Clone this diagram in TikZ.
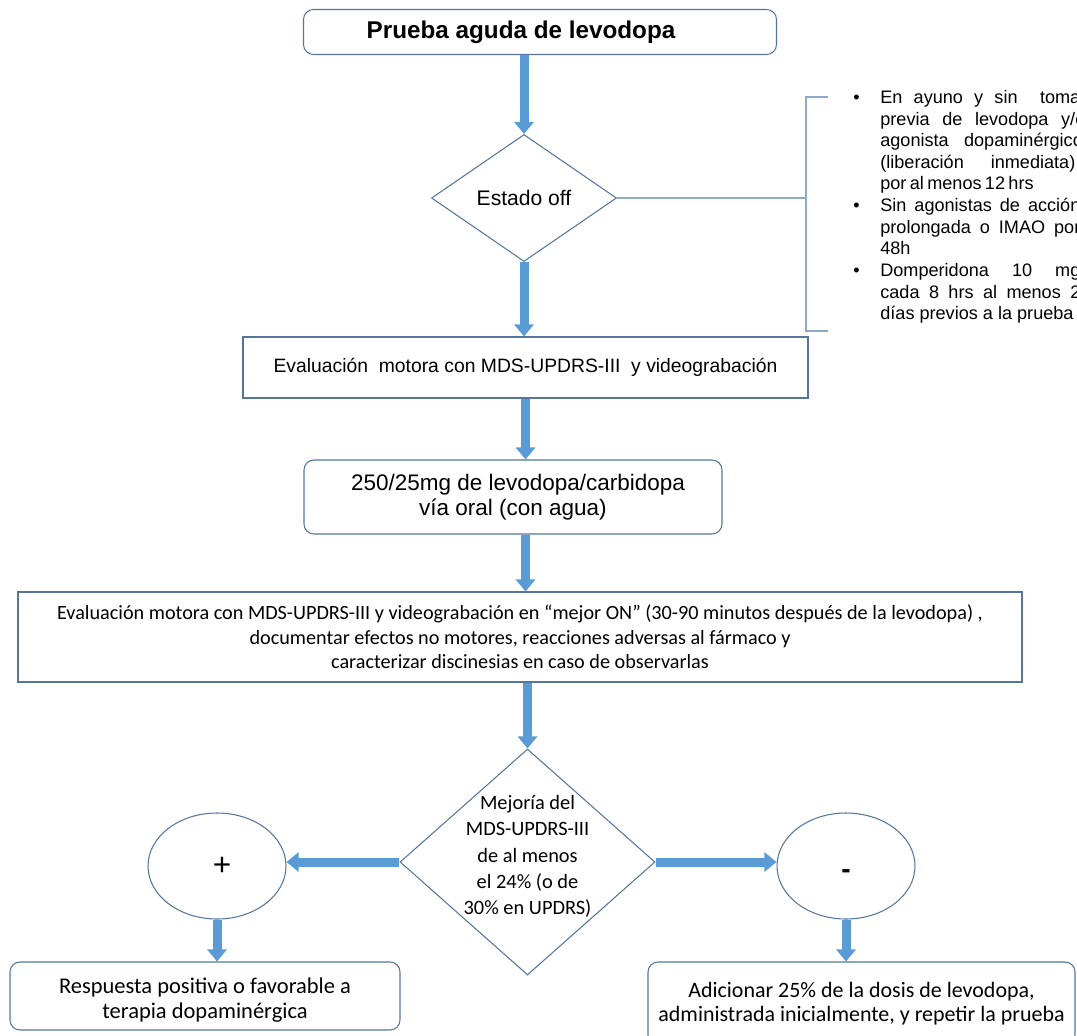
\documentclass[tikz,border=0pt]{standalone}
\usepackage{fontspec}
\setmainfont{Liberation Sans}
\newfontfamily\calibri{Carlito}
\usetikzlibrary{shapes.geometric, arrows.meta}
\definecolor{BoxLine}{RGB}{84,118,156}
\definecolor{BracketLine}{RGB}{141,169,204}
\definecolor{ArrowFill}{RGB}{91,155,213}

\begin{document}
\begin{tikzpicture}[
  font=\fontsize{11}{13.5}\selectfont,
  box/.style={draw=BoxLine, line width=0.6pt, align=center, inner sep=0pt},
  roundbox/.style={box, rounded corners=0.2cm},
  decision/.style={draw=BoxLine, line width=0.6pt, diamond, inner sep=0pt},
  sign/.style={draw=BoxLine, line width=0.6pt, ellipse, inner sep=0pt, minimum width=2.76cm, minimum height=2.12cm},
  flow/.style={draw=ArrowFill, line width=0.18cm, -{Triangle[width=0.38cm,length=0.24cm]}},
]
\useasboundingbox (0,0) rectangle (21.54,-20.7);
\clip (0,0) rectangle (21.54,-20.7);

% Title
\node[roundbox, minimum width=9.46cm, minimum height=0.9cm, font=\bfseries\fontsize{13.8}{16}\selectfont] (title) at (10.80,-0.64) {Prueba aguda de levodopa\hspace*{0.76cm}};

% Off state and its conditions
\node[decision, minimum width=3.7cm, minimum height=2.54cm, font=\fontsize{12}{14}\selectfont] (off) at (10.48,-3.96) {Estado off};
\coordinate (brk) at (16.12,-3.96);
\draw[BracketLine, line width=0.6pt] (16.56,-1.94) -- (16.12,-1.94) -- (16.12,-6.62) -- (16.56,-6.62);
\draw[BracketLine, line width=0.6pt] (off.east) -- (brk);
\node[anchor=north west, inner sep=0pt, font=\fontsize{10.3}{12.3}\selectfont] (cond) at (17.06,-1.76) {%
\begin{tabular}{@{}p{0.54cm}@{}l@{}}
\textbullet & \makebox[4.12cm][s]{En ayuno y sin\ \ tomar}\\
 & \makebox[4.1cm][s]{previa de levodopa y/o}\\
 & \makebox[4.05cm][s]{agonista dopaminérgico}\\
 & \makebox[3.9cm][s]{(liberación inmediata)}\\
 & \makebox[2.3cm][s]{por al menos 12 hrs}\\
\textbullet & \makebox[4.0cm][s]{Sin agonistas de acción}\\
 & \makebox[4.0cm][s]{prolongada o IMAO por}\\
 & 48h\\
\textbullet & \makebox[4.0cm][s]{Domperidona 10 mg}\\
 & \makebox[4.0cm][s]{cada 8 hrs al menos 2}\\
 & días previos a la prueba
\end{tabular}};

% Motor evaluation and dose
\node[box, minimum width=11.3cm, minimum height=1.22cm] (eval1) at (10.51,-7.35) {Evaluación\ \ motora con MDS-UPDRS-III\ \ y videograbación};
\node[roundbox, minimum width=8.36cm, minimum height=1.48cm, font=\fontsize{12.8}{14.2}\selectfont] (dose) at (10.26,-9.94) {\hspace*{0.2cm}250/25mg de levodopa/carbidopa\\vía oral (con agua)};
\node[box, minimum width=20.08cm, minimum height=1.8cm, font=\calibri\fontsize{11.5}{13.9}\selectfont] (eval2) at (10.40,-12.74) {Evaluación motora con MDS-UPDRS-III y videograbación en “mejor ON” (30-90 minutos después de la levodopa) ,\\documentar efectos no motores, reacciones adversas al fármaco y\\caracterizar discinesias en caso de observarlas};

% Decision
\node[decision, minimum width=5.1cm, minimum height=4.52cm, font=\calibri\fontsize{11.6}{15}\selectfont] (dia2) at (10.55,-17.24) {\smash{\begin{tabular}{@{}c@{}}Mejoría del\\MDS-UPDRS-III\\de al menos\\el 24\% (o de\\30\% en UPDRS)\end{tabular}}};
\node[sign, font=\fontsize{18}{20}\selectfont] (plus) at (4.34,-17.32) {\hspace*{0.2cm}+};
\node[sign, font=\bfseries\fontsize{16}{18}\selectfont] (minus) at (16.92,-17.32) {\raisebox{-0.45em}[0pt][0pt]{-}};

% Outcomes
\node[roundbox, minimum width=7.8cm, minimum height=1.36cm, font=\calibri\fontsize{12.8}{14.2}\selectfont] (pos) at (4.10,-19.92) {\raisebox{-0.21cm}[0pt][0pt]{\begin{tabular}{@{}c@{}}Respuesta positiva o favorable a\\terapia dopaminérgica\end{tabular}}};
\node[roundbox, minimum width=8.54cm, minimum height=1.66cm, font=\calibri\fontsize{12.5}{13.8}\selectfont] (neg) at (17.23,-20.07) {Adicionar 25\% de la dosis de levodopa,\\administrada inicialmente, y repetir la prueba};

% Arrows
\draw[flow] (title.south -| off.north) -- (off.north);
\draw[flow] (off.south) -- (off.south |- eval1.north);
\draw[flow] (eval1.south) -- (eval1.south |- dose.north);
\draw[flow] (dose.south -| eval1.south) -- (eval1.south |- eval2.north);
\draw[flow] (eval2.south -| dia2.north) -- (dia2.north);
\draw[flow] (dia2.west) -- (dia2.west -| plus.east);
\draw[flow] (dia2.east) -- (dia2.east -| minus.west);
\draw[flow] (plus.south) -- (plus.south |- pos.north);
\draw[flow] (minus.south) -- (minus.south |- neg.north);

\end{tikzpicture}
\end{document}
